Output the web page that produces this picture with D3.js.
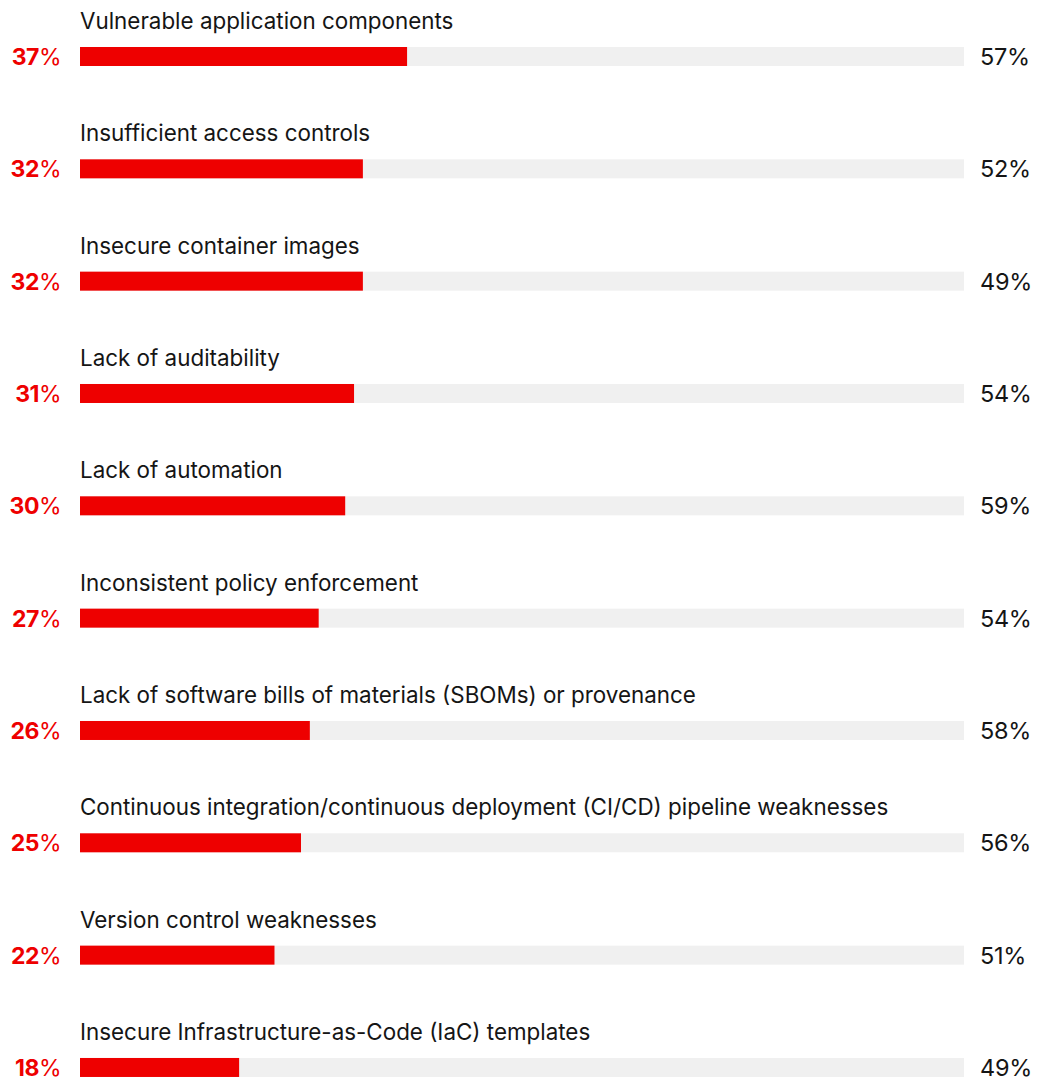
<!DOCTYPE html>
<html>
<head>
<meta charset="utf-8">
<script src="https://cdn.jsdelivr.net/npm/d3@7"></script>
<style>
  html, body { margin: 0; padding: 0; background: #ffffff; }
  svg { display: block; }
  text { font-family: "Inter", "Noto Sans", sans-serif; }
</style>
</head>
<body>
<svg id="chart" width="1045" height="1081"></svg>
<script>
// Security concerns: share citing each item as a top concern (red) vs. overall share (right)
const categories = [
  "Vulnerable application components",
  "Insufficient access controls",
  "Insecure container images",
  "Lack of auditability",
  "Lack of automation",
  "Inconsistent policy enforcement",
  "Lack of software bills of materials (SBOMs) or provenance",
  "Continuous integration/continuous deployment (CI/CD) pipeline weaknesses",
  "Version control weaknesses",
  "Insecure Infrastructure-as-Code (IaC) templates"
];
const topConcern = [37, 32, 32, 31, 30, 27, 26, 25, 22, 18];
const anyConcern = [57, 52, 49, 54, 59, 54, 58, 56, 51, 49];

const RED = "#ee0000";
const INK = "#151515";
const TRACK = "#f0f0f0";

const svg = d3.select("#chart");

// Rows
const y = d3.scaleBand()
  .domain(categories)
  .range([10, 10 + 112.33 * categories.length])
  .paddingInner(0);

// Percent scale across the track
const x = d3.scaleLinear().domain([0, 100]).range([80, 964]);

const barOffset = 37;   // from row top to bar top
const barH = 19;

const rows = svg.selectAll("g.row")
  .data(categories.map((c, i) => ({ c, top: topConcern[i], any: anyConcern[i] })))
  .join("g")
  .attr("class", "row")
  .attr("transform", d => `translate(0,${y(d.c)})`);

rows.append("text")
  .attr("x", x(0))
  .attr("y", 19)
  .attr("fill", INK)
  .attr("font-size", 22.4)
  .text(d => d.c);

rows.append("rect")
  .attr("x", x(0))
  .attr("y", barOffset)
  .attr("width", x(100) - x(0))
  .attr("height", barH)
  .attr("fill", TRACK);

rows.append("rect")
  .attr("x", x(0))
  .attr("y", barOffset)
  .attr("width", d => x(d.top) - x(0))
  .attr("height", barH)
  .attr("fill", RED);

const left = rows.append("text")
  .attr("x", 61)
  .attr("y", barOffset + 18)
  .attr("text-anchor", "end")
  .attr("fill", RED)
  .attr("font-size", 23)
  .attr("letter-spacing", -0.5);
left.append("tspan").attr("font-weight", 700).text(d => d.top);
left.append("tspan").attr("font-weight", 400).text("%");

rows.append("text")
  .attr("x", 980)
  .attr("y", barOffset + 18)
  .attr("fill", INK)
  .attr("font-size", 23.5)
  .attr("letter-spacing", -0.3)
  .text(d => d.any + "%");
</script>
</body>
</html>
